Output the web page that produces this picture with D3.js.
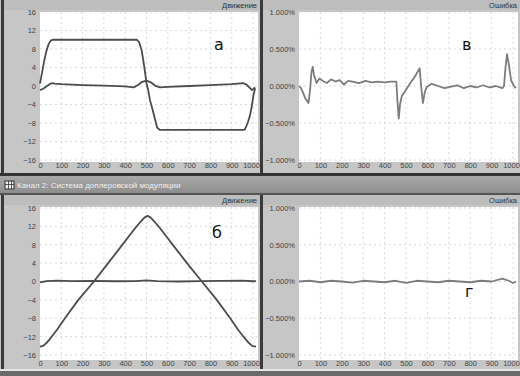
<!DOCTYPE html>
<html>
<head>
<meta charset="utf-8">
<script src="https://cdn.jsdelivr.net/npm/d3@7"></script>
<style>
  body { margin: 0; background: #c4c4c4; }
  svg { display: block; font-family: "Liberation Sans", Arial, sans-serif; }
</style>
</head>
<body>
<script>
// Data
var xTicks = [0, 100, 200, 300, 400, 500, 600, 700, 800, 900, 1000];
var moveTicks = [-16, -12, -8, -4, 0, 4, 8, 12, 16];
var errTicks = [-1, -0.5, 0, 0.5, 1];

// panel a: motion, trapezoid + small velocity-like curve
var aMainT = [0, 10, 20, 30, 40, 50, 60, 455, 465, 477, 490, 500, 508, 516, 529, 540, 550, 563, 955, 962, 975, 985, 994, 1002, 1010];
var aMainV = [0.5, 3, 5.5, 7.5, 9, 9.8, 10, 10, 9.5, 7.8, 4, 0.6, -0.9, -3, -5.2, -7.2, -9, -9.5, -9.5, -9.4, -8, -6.5, -4.5, -2, -0.5];
var aSmallT = [0, 15, 30, 45, 55, 70, 100, 200, 300, 400, 440, 460, 480, 500, 520, 540, 563, 600, 700, 800, 900, 955, 970, 985, 995, 1010];
var aSmallV = [-0.9, -0.6, -0.1, 0.4, 0.6, 0.5, 0.4, 0.2, 0.1, -0.1, -0.3, 0.2, 0.9, 1.15, 0.8, 0.1, -0.3, -0.2, 0, 0.2, 0.4, 0.6, 0.3, -0.4, -0.9, -0.3];

// panel в: error, %
var vT = [0, 10, 20, 30, 44, 52, 58, 64, 70, 82, 95, 110, 130, 150, 170, 190, 210, 230, 250, 280, 310, 340, 370, 400, 430, 455, 460, 466, 472, 480, 500, 520, 540, 564, 570, 579, 588, 598, 620, 650, 680, 710, 740, 770, 800, 830, 860, 890, 920, 950, 958, 965, 972, 980, 991, 1004, 1014];
var vV = [0, -0.03, -0.1, -0.17, -0.23, -0.05, 0.18, 0.26, 0.15, 0.04, 0.1, 0.07, 0.04, 0.09, 0.06, 0.08, 0.02, 0.07, 0.06, 0.04, 0.07, 0.05, 0.06, 0.05, 0.06, 0.06, -0.2, -0.44, -0.25, -0.14, -0.05, 0.04, 0.12, 0.24, 0.02, -0.23, -0.08, -0.01, 0.03, 0.0, -0.03, -0.01, 0.01, -0.03, 0.0, -0.02, 0.01, -0.02, 0.0, -0.03, 0.0, 0.25, 0.43, 0.3, 0.08, 0.0, -0.03];

// panel б: motion, triangle + flat curve
var bMainT = [0, 15, 30, 45, 60, 80, 117, 180, 253, 320, 380, 420, 450, 472, 490, 505, 520, 538, 560, 590, 630, 690, 760, 830, 893, 930, 950, 966, 981, 996, 1014];
var bMainV = [-14.2, -14, -13.4, -12.6, -11.7, -10.5, -8, -4, 0, 4, 7.6, 10, 11.8, 13, 13.9, 14.3, 13.9, 13, 11.8, 10, 7.6, 4, 0, -4, -8, -10.5, -11.7, -12.6, -13.4, -14, -14.2];
var bSmallT = [0, 30, 80, 150, 250, 350, 450, 500, 550, 650, 750, 850, 950, 1000, 1014];
var bSmallV = [-0.2, 0.1, 0.2, 0.1, 0.15, 0.05, 0.1, 0.25, 0.1, 0.0, 0.1, 0.15, 0.2, 0.05, 0.1];

// panel г: error, %
var gT = [0, 50, 100, 150, 200, 250, 300, 350, 400, 450, 500, 550, 600, 650, 700, 750, 800, 850, 900, 950, 980, 1000, 1014];
var gV = [0.0, 0.01, -0.01, 0.01, 0.0, -0.015, 0.01, 0.0, -0.01, 0.01, -0.02, 0.01, 0.0, -0.01, 0.01, 0.0, -0.01, 0.01, 0.0, 0.04, 0.01, -0.02, 0.0];

var svg = d3.select("body").append("svg")
  .attr("width", 520)
  .attr("height", 376);

// background frame
svg.append("rect").attr("width", 520).attr("height", 376).attr("fill", "#c4c4c4");

function drawPanel(p) {
  // panel background and header strip
  svg.append("rect")
    .attr("x", p.x0).attr("y", p.y0).attr("width", p.x1 - p.x0).attr("height", p.y1 - p.y0)
    .attr("fill", "#c6c6c6");
  svg.append("rect")
    .attr("x", p.x0).attr("y", p.y0).attr("width", p.x1 - p.x0).attr("height", 10)
    .attr("fill", "#bdbdbd");
  svg.append("text")
    .attr("x", p.x1 - 3).attr("y", p.y0 + 8)
    .attr("text-anchor", "end")
    .attr("font-size", 7.5)
    .attr("fill", "#333")
    .text(p.title);

  // plot area
  svg.append("rect")
    .attr("x", p.px0).attr("y", p.py0).attr("width", p.px1 - p.px0).attr("height", p.py1 - p.py0)
    .attr("fill", "#fff");

  var x = d3.scaleLinear().domain([0, 1000]).range(p.xRange);
  var y = d3.scaleLinear().domain(p.yDomain).range(p.yRange);

  var g = svg.append("g");

  // dashed grid
  g.selectAll(".vg").data(xTicks.slice(1)).enter().append("line")
    .attr("x1", d => x(d)).attr("x2", d => x(d))
    .attr("y1", p.py0).attr("y2", p.py1)
    .attr("stroke", "#cfcfcf").attr("stroke-width", 0.8).attr("stroke-dasharray", "2,3");
  g.selectAll(".hg").data(p.yTicks).enter().append("line")
    .attr("x1", p.px0).attr("x2", p.px1)
    .attr("y1", d => y(d)).attr("y2", d => y(d))
    .attr("stroke", "#cfcfcf").attr("stroke-width", 0.8).attr("stroke-dasharray", "2,3");

  // axes, ticks hidden, only labels
  var leftAxis = d3.axisLeft(y).tickValues(p.yTicks).tickSize(0).tickPadding(3).tickFormat(p.fmt);
  var bottomAxis = d3.axisBottom(x).tickValues(xTicks).tickSize(0).tickPadding(2).tickFormat(d3.format("d"));
  var ya = svg.append("g").attr("transform", `translate(${p.px0 - 1},0)`).call(leftAxis);
  var xa = svg.append("g").attr("transform", `translate(0,${p.py1 - 1})`).call(bottomAxis);
  [ya, xa].forEach(function(a) {
    a.select(".domain").remove();
    a.selectAll("text")
      .attr("font-size", 7.5)
      .attr("fill", "#444")
      .style("font-family", "Liberation Sans, Arial, sans-serif");
  });
  // keep the last x label inside the window
  xa.selectAll("text").filter(d => d === 1000).attr("dx", -2);

  var line = d3.line().x(d => x(d[0])).y(d => y(d[1]));
  p.series.forEach(function(s) {
    svg.append("path")
      .datum(d3.zip(s.t, s.v))
      .attr("d", line)
      .attr("fill", "none")
      .attr("stroke", s.color)
      .attr("stroke-width", s.width)
      .attr("stroke-linejoin", "round");
  });

  svg.append("text")
    .attr("x", p.letter[0]).attr("y", p.letter[1])
    .attr("font-size", 16)
    .attr("font-family", "DejaVu Sans, sans-serif")
    .attr("fill", "#111")
    .text(p.letterText);
}

var pctFmt = d => d3.format(".3f")(d) + "%";
var moveCol = "#4c4c4c", errCol = "#7c7c7c";

drawPanel({
  x0: 4, x1: 260, y0: 0, y1: 173, px0: 40, px1: 258, py0: 12, py1: 162,
  xRange: [40, 253], yDomain: [-16, 16], yRange: [160, 12], yTicks: moveTicks,
  fmt: d3.format("d"), title: "Движение", letter: [214, 50], letterText: "а",
  series: [{t: aMainT, v: aMainV, color: moveCol, width: 1.8},
           {t: aSmallT, v: aSmallV, color: moveCol, width: 1.8}]
});
drawPanel({
  x0: 263, x1: 520, y0: 0, y1: 173, px0: 299, px1: 518, py0: 12, py1: 162,
  xRange: [299, 513], yDomain: [-1, 1], yRange: [160, 12], yTicks: errTicks,
  fmt: pctFmt, title: "Ошибка", letter: [462, 50], letterText: "в",
  series: [{t: vT, v: vV, color: errCol, width: 1.8}]
});
drawPanel({
  x0: 4, x1: 260, y0: 195, y1: 369, px0: 40, px1: 258, py0: 207, py1: 360,
  xRange: [40, 253], yDomain: [-16, 16], yRange: [355, 208], yTicks: moveTicks,
  fmt: d3.format("d"), title: "Движение", letter: [212, 238], letterText: "б",
  series: [{t: bMainT, v: bMainV, color: moveCol, width: 1.8},
           {t: bSmallT, v: bSmallV, color: moveCol, width: 1.8}]
});
drawPanel({
  x0: 263, x1: 520, y0: 195, y1: 369, px0: 299, px1: 518, py0: 207, py1: 360,
  xRange: [299, 513], yDomain: [-1, 1], yRange: [355, 208], yTicks: errTicks,
  fmt: pctFmt, title: "Ошибка", letter: [465, 297], letterText: "г",
  series: [{t: gT, v: gV, color: errCol, width: 1.8}]
});

// window frame lines
svg.append("rect").attr("x", 1).attr("y", 0).attr("width", 3).attr("height", 376).attr("fill", "#3a3a3a");
svg.append("rect").attr("x", 260).attr("y", 0).attr("width", 3).attr("height", 174).attr("fill", "#3a3a3a");
svg.append("rect").attr("x", 260).attr("y", 194).attr("width", 3).attr("height", 176).attr("fill", "#3a3a3a");

// title bar of the second channel
svg.append("rect").attr("x", 0).attr("y", 173).attr("width", 520).attr("height", 3).attr("fill", "#333");
var grad = svg.append("defs").append("linearGradient").attr("id", "bar").attr("x1", 0).attr("x2", 0).attr("y1", 0).attr("y2", 1);
grad.append("stop").attr("offset", 0).attr("stop-color", "#a9a9a9");
grad.append("stop").attr("offset", 1).attr("stop-color", "#8e8e8e");
svg.append("rect").attr("x", 0).attr("y", 176).attr("width", 520).attr("height", 17).attr("fill", "url(#bar)");
svg.append("rect").attr("x", 0).attr("y", 193).attr("width", 520).attr("height", 2).attr("fill", "#555");
svg.append("rect").attr("x", 5).attr("y", 181).attr("width", 9).attr("height", 8).attr("fill", "#eee").attr("stroke", "#333").attr("stroke-width", 1);
svg.append("path").attr("d", "M5,184.5H14M8.5,181V189M11.5,181V189").attr("stroke", "#333").attr("stroke-width", 0.8);
svg.append("text")
  .attr("x", 17).attr("y", 188)
  .attr("font-size", 8)
  .attr("fill", "#f0f0f0")
  .text("Канал 2: Система доплеровской модуляции");

// bottom edge
svg.append("rect").attr("x", 0).attr("y", 369).attr("width", 520).attr("height", 2).attr("fill", "#e6e6e6");
svg.append("rect").attr("x", 0).attr("y", 371).attr("width", 520).attr("height", 5).attr("fill", "#6a6a6a");
</script>
</body>
</html>
